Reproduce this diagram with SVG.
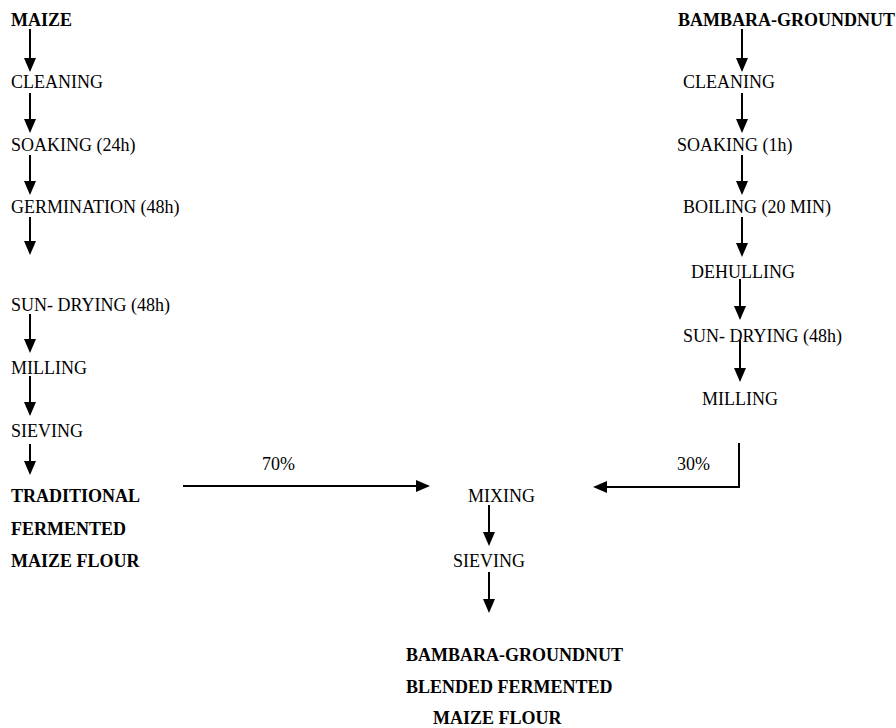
<svg xmlns="http://www.w3.org/2000/svg" width="896" height="728" viewBox="0 0 896 728">
<style>
text{font-family:"Liberation Serif","Times New Roman",serif;font-size:18px;fill:#000}
.b{font-weight:bold}
.c line,.c path{stroke:#000;stroke-width:2;fill:none}
</style>
<defs>
<marker id="ah" markerUnits="userSpaceOnUse" markerWidth="14" markerHeight="12" refX="0" refY="6" orient="auto" overflow="visible">
<path d="M0,0 L14,6 L0,12 z" fill="#000" stroke="none"/>
</marker>
</defs>
<rect width="896" height="728" fill="#fff"/>
<g id="maize"><text class="b" x="11" y="26">MAIZE</text></g>
<g id="l-cleaning"><text x="11" y="88">CLEANING</text></g>
<g id="l-soaking"><text x="11" y="151">SOAKING (24h)</text></g>
<g id="l-germination"><text x="11" y="213">GERMINATION (48h)</text></g>
<g id="l-sundrying"><text x="11" y="311">SUN- DRYING (48h)</text></g>
<g id="l-milling"><text x="11" y="374">MILLING</text></g>
<g id="l-sieving"><text x="11" y="437">SIEVING</text></g>
<g id="tfmf"><text class="b" x="11" y="502">TRADITIONAL</text><text class="b" x="11" y="535">FERMENTED</text><text class="b" x="11" y="567">MAIZE FLOUR</text></g>
<g id="bambara"><text class="b" x="678" y="26">BAMBARA-GROUNDNUT</text></g>
<g id="r-cleaning"><text x="683" y="88">CLEANING</text></g>
<g id="r-soaking"><text x="677" y="151">SOAKING (1h)</text></g>
<g id="r-boiling"><text x="683" y="213">BOILING (20 MIN)</text></g>
<g id="r-dehulling"><text x="691" y="278">DEHULLING</text></g>
<g id="r-sundrying"><text x="683" y="342">SUN- DRYING (48h)</text></g>
<g id="r-milling"><text x="702" y="405">MILLING</text></g>
<g id="mixing"><text x="468" y="502">MIXING</text></g>
<g id="m-sieving"><text x="453" y="567">SIEVING</text></g>
<g id="final"><text class="b" x="406" y="661">BAMBARA-GROUNDNUT</text><text class="b" x="406" y="693">BLENDED FERMENTED</text><text class="b" x="433" y="724">MAIZE FLOUR</text></g>
<g id="connectors" class="c">
<line x1="30" y1="29" x2="30" y2="58" marker-end="url(#ah)"/>
<line x1="30" y1="93" x2="30" y2="119" marker-end="url(#ah)"/>
<line x1="30" y1="155" x2="30" y2="181" marker-end="url(#ah)"/>
<line x1="30" y1="217" x2="30" y2="241" marker-end="url(#ah)"/>
<line x1="30" y1="314" x2="30" y2="339" marker-end="url(#ah)"/>
<line x1="30" y1="376" x2="30" y2="402" marker-end="url(#ah)"/>
<line x1="30" y1="444" x2="30" y2="461" marker-end="url(#ah)"/>
<line x1="742" y1="29" x2="742" y2="58" marker-end="url(#ah)"/>
<line x1="742" y1="93" x2="742" y2="119" marker-end="url(#ah)"/>
<line x1="742" y1="155" x2="742" y2="181" marker-end="url(#ah)"/>
<line x1="742" y1="217" x2="742" y2="243" marker-end="url(#ah)"/>
<line x1="740" y1="279" x2="740" y2="306" marker-end="url(#ah)"/>
<line x1="740" y1="340" x2="740" y2="368" marker-end="url(#ah)"/>
<line x1="183" y1="486" x2="416" y2="486" marker-end="url(#ah)"/>
<path d="M739,443 V487 H607" marker-end="url(#ah)"/>
<line x1="489" y1="505" x2="489" y2="532" marker-end="url(#ah)"/>
<line x1="489" y1="572" x2="489" y2="599" marker-end="url(#ah)"/>
</g>
<g id="labels"><text x="262" y="470">70%</text><text x="677" y="470">30%</text></g>
</svg>
